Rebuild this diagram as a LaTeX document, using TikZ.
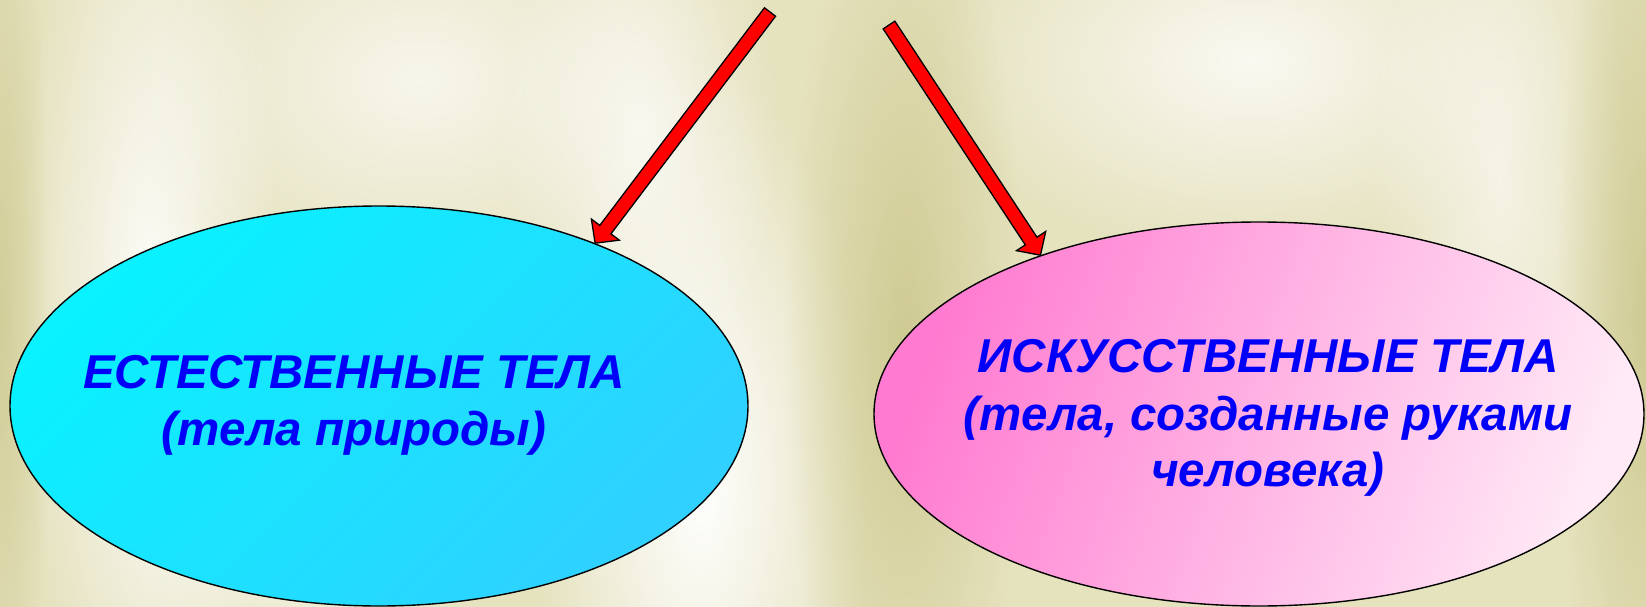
\documentclass[tikz,border=0pt]{standalone}
\usepackage{fontspec}
\setmainfont{Liberation Sans}
\usetikzlibrary{shapes.geometric,calc,fadings}
\definecolor{bgbase}{RGB}{229,226,190}
\definecolor{bgdark}{RGB}{205,200,142}
\definecolor{cyanA}{RGB}{8,242,255}
\definecolor{cyanB}{RGB}{48,208,255}
\definecolor{pinkA}{RGB}{255,122,208}
\definecolor{pinkB}{RGB}{255,234,246}
\definecolor{txtblue}{RGB}{0,0,250}
\definecolor{arrred}{RGB}{255,0,0}
\tikzfading[name=softspot, inner color=transparent!0, outer color=transparent!100]
\newcommand\fatarrow[2]{%
  \path ($(#2)!17pt!(#1)$) coordinate (hb);
  \filldraw[arrowbody] ($(#1)!7pt!90:(#2)$) -- ($(hb)!7pt!90:(#2)$) -- ($(hb)!17.5pt!90:(#2)$) -- (#2)
     -- ($(hb)!17.5pt!-90:(#2)$) -- ($(hb)!7pt!-90:(#2)$) -- ($(#1)!7pt!-90:(#2)$) -- cycle;}
\begin{document}
\begin{tikzpicture}[x=1pt,y=-1pt,
  bodyshape/.style={ellipse, draw=black, line width=1.4pt, inner sep=0pt},
  lbl/.style={font=\fontsize{47.5}{57}\selectfont\bfseries\itshape, text=txtblue, inner sep=0pt, anchor=base},
  arrowbody/.style={fill=arrred, draw=black, line width=1.3pt, line join=miter},
  glow/.style={fill=white, path fading=softspot},
  dim/.style={fill=bgdark, path fading=softspot}]
\useasboundingbox (0,0) rectangle (1646,607);
% background
\fill[bgbase] (0,0) rectangle (1646,607);
\fill[glow, fill opacity=0.9] (150,300) ellipse (130 and 520);
\fill[glow, fill opacity=0.7] (420,80) ellipse (300 and 220);
\fill[glow, fill opacity=1] (700,480) ellipse (170 and 420);
\fill[glow, fill opacity=0.7] (640,130) ellipse (140 and 300);
\fill[glow, fill opacity=0.8] (1250,60) ellipse (320 and 200);
\fill[glow, fill opacity=0.6] (1500,180) ellipse (130 and 380);
\fill[glow, fill opacity=0.6] (300,560) ellipse (200 and 120);
\fill[dim, fill opacity=0.9] (905,340) ellipse (120 and 480);
\fill[dim, fill opacity=0.9] (1646,320) ellipse (90 and 520);
\fill[dim, fill opacity=0.8] (0,320) ellipse (50 and 520);
% ellipses
\node[bodyshape, minimum width=738pt, minimum height=400pt,
      top color=cyanA, bottom color=cyanB, shading angle=45] (nat) at (379,406) {};
\node[bodyshape, minimum width=770pt, minimum height=384pt,
      top color=pinkA, bottom color=pinkB, shading angle=70] (art) at (1259,414) {};
% labels
\node[lbl] (natA) at (354,388) {ЕСТЕСТВЕННЫЕ ТЕЛА};
\node[lbl] (natB) at (354,445) {(тела природы)};
\node[lbl] (artA) at (1268,372) {ИСКУССТВЕННЫЕ ТЕЛА};
\node[lbl] (artB) at (1268,430) {(тела, созданные руками};
\node[lbl] (artC) at (1268,486) {человека)};
% arrows
\coordinate (tailL) at (770,12);
\coordinate (tailR) at (889,25);
\fatarrow{tailL}{nat.37}
\fatarrow{tailR}{art.144}
\end{tikzpicture}
\end{document}
